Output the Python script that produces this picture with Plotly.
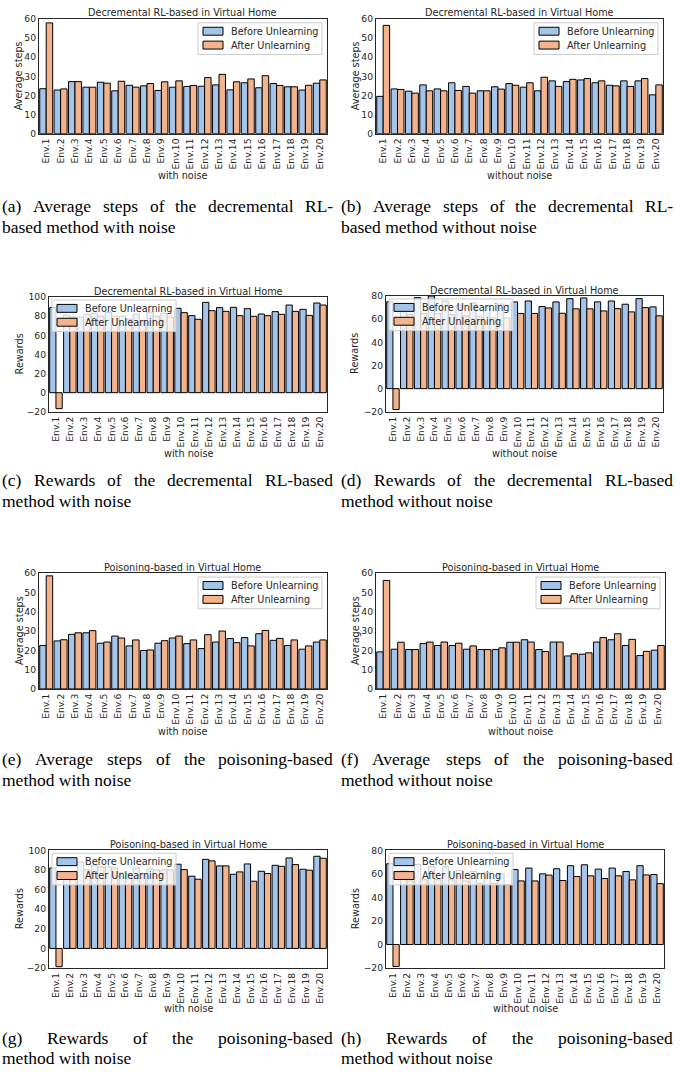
import plotly.graph_objects as go

W, H = 681, 1077

envs = ["Env.1", "Env.2", "Env.3", "Env.4", "Env.5", "Env.6", "Env.7", "Env.8", "Env.9", "Env.10",
        "Env.11", "Env.12", "Env.13", "Env.14", "Env.15", "Env.16", "Env.17", "Env.18", "Env.19", "Env.20"]

# Decremental RL-based method, average steps
dec_steps_noise_before = [23.5, 22.8, 27.2, 24.3, 26.9, 22.4, 25.3, 25.0, 22.6, 24.3,
                          24.7, 24.8, 25.5, 22.9, 26.6, 24.0, 26.2, 24.5, 22.8, 26.4]
dec_steps_noise_after = [57.9, 23.4, 27.2, 24.3, 26.4, 27.4, 24.3, 26.2, 27.1, 27.6,
                         25.2, 29.3, 31.0, 27.1, 28.6, 30.3, 25.2, 24.5, 25.3, 28.1]
dec_steps_clean_before = [19.5, 23.4, 22.2, 25.5, 23.4, 26.6, 24.7, 22.4, 24.5, 26.2,
                          24.3, 22.4, 27.6, 27.2, 28.1, 26.6, 25.3, 27.6, 27.6, 20.3]
dec_steps_clean_after = [56.6, 23.1, 21.2, 22.4, 22.4, 22.6, 21.2, 22.4, 23.3, 25.3,
                         26.6, 29.5, 24.7, 28.4, 28.8, 27.6, 25.0, 24.7, 28.8, 25.5]

# Decremental RL-based method, rewards
dec_rew_noise_before = [89.0, 81.0, 79.0, 83.0, 84.0, 80.0, 82.0, 84.0, 83.0, 88.2,
                        80.5, 94.4, 88.9, 89.2, 87.8, 82.2, 84.7, 91.6, 87.1, 93.7]
dec_rew_noise_after = [-16.7, 79.0, 82.0, 80.0, 80.0, 77.0, 75.0, 80.0, 79.0, 83.6,
                       76.7, 85.7, 85.0, 80.5, 79.8, 80.5, 81.9, 85.0, 80.8, 91.6]
dec_rew_clean_before = [75.0, 72.0, 78.6, 80.0, 75.7, 72.0, 74.0, 71.0, 73.0, 74.9,
                        75.7, 70.9, 74.9, 77.7, 78.3, 74.9, 75.7, 72.9, 77.7, 70.6]
dec_rew_clean_after = [-18.0, 64.0, 65.0, 65.0, 64.0, 63.0, 62.0, 61.0, 61.0, 64.9,
                       64.9, 69.7, 65.1, 68.9, 68.9, 67.1, 69.1, 66.3, 70.0, 62.9]

# Poisoning-based method, average steps
poi_steps_noise_before = [22.5, 24.9, 28.3, 29.1, 23.7, 27.4, 22.3, 19.9, 23.7, 26.4,
                          23.5, 20.9, 24.3, 26.1, 26.6, 28.6, 25.2, 22.5, 20.6, 24.3]
poi_steps_noise_after = [58.6, 25.5, 29.1, 30.2, 24.3, 26.4, 25.4, 20.2, 25.0, 27.4,
                         25.4, 28.1, 30.0, 24.0, 22.3, 30.3, 26.2, 25.4, 22.3, 25.4]
poi_steps_clean_before = [19.2, 20.6, 20.4, 23.5, 22.5, 22.5, 20.6, 20.4, 20.4, 24.2,
                          25.5, 20.4, 24.3, 17.1, 18.0, 24.3, 25.5, 22.5, 17.3, 20.1]
poi_steps_clean_after = [56.2, 24.2, 20.4, 24.3, 24.3, 23.7, 22.3, 20.4, 21.3, 24.2,
                         24.3, 19.4, 24.3, 18.2, 18.7, 26.6, 28.6, 25.7, 19.5, 22.5]

# Poisoning-based method, rewards
poi_rew_noise_before = [82.0, 76.0, 88.0, 85.0, 83.0, 77.0, 82.0, 81.0, 80.0, 85.8,
                        73.6, 90.8, 84.1, 75.6, 86.1, 78.6, 84.7, 92.2, 80.7, 93.9]
poi_rew_noise_after = [-18.6, 70.0, 80.0, 83.0, 82.0, 76.0, 76.0, 80.0, 80.0, 80.3,
                       70.5, 89.2, 84.1, 78.0, 68.5, 76.3, 83.7, 85.4, 79.7, 91.9]
poi_rew_clean_before = [68.6, 63.0, 68.0, 66.0, 66.0, 63.0, 62.0, 61.0, 60.0, 63.7,
                        64.9, 60.0, 64.3, 66.9, 67.7, 64.0, 64.9, 62.0, 66.9, 59.4]
poi_rew_clean_after = [-18.6, 54.0, 55.0, 55.0, 55.0, 54.0, 52.0, 52.0, 51.0, 54.0,
                       54.0, 58.9, 54.3, 57.7, 58.3, 56.0, 58.3, 54.9, 59.1, 51.7]

steps_ticks = [0, 10, 20, 30, 40, 50, 60]
rew_ticks_100 = [-20, 0, 20, 40, 60, 80, 100]
rew_ticks_80 = [-20, 0, 20, 40, 60, 80]

series_names = ["Before Unlearning", "After Unlearning"]

BLUE = "#a4c4ea"
ORANGE = "#f2b38d"
INK = "#262626"
MPL_FONT = "DejaVu Sans"
SERIF = "Liberation Serif"
FS = 9.7
TICK_FS = 9.2
CAP_FS = 17.5
CAP_LEAD = 20.7


def fx(px):
    return px / W


def fy(py):
    return 1 - py / H


TITLE_DEC = "Decremental RL-based in Virtual Home"
TITLE_POI = "Poisoning-based in Virtual Home"

# pixel boxes: (left, top, right, bottom); cap = centre of the first caption line
panels = [
    dict(title=TITLE_DEC, before=dec_steps_noise_before, after=dec_steps_noise_after,
         box=(39, 13, 327, 129), yrange=(0, 60), ticks=steps_ticks, ylabel="Average steps",
         xlabel="with noise", legend="right", ylab_x=18, xlab_y=171, col=0, cap=202.5,
         caption=("(a) Average steps of the decremental RL-", "based method with noise")),
    dict(title=TITLE_DEC, before=dec_steps_clean_before, after=dec_steps_clean_after,
         box=(376, 13, 663, 129), yrange=(0, 60), ticks=steps_ticks, ylabel="Average steps",
         xlabel="without noise", legend="right", ylab_x=355, xlab_y=171, col=1, cap=202.5,
         caption=("(b) Average steps of the decremental RL-", "based method without noise")),
    dict(title=TITLE_DEC, before=dec_rew_noise_before, after=dec_rew_noise_after,
         box=(49, 294, 327, 410), yrange=(-20, 100), ticks=rew_ticks_100, ylabel="Rewards",
         xlabel="with noise", legend="left", ylab_x=19, xlab_y=452, col=0, cap=479,
         caption=("(c) Rewards of the decremental RL-based", "method with noise")),
    dict(title=TITLE_DEC, before=dec_rew_clean_before, after=dec_rew_clean_after,
         box=(386, 293, 663, 410), yrange=(-20, 80), ticks=rew_ticks_80, ylabel="Rewards",
         xlabel="without noise", legend="left", ylab_x=355, xlab_y=452, col=1, cap=479,
         caption=("(d) Rewards of the decremental RL-based", "method without noise")),
    dict(title=TITLE_POI, before=poi_steps_noise_before, after=poi_steps_noise_after,
         box=(39, 573, 327, 690), yrange=(0, 60), ticks=steps_ticks, ylabel="Average steps",
         xlabel="with noise", legend="right", ylab_x=19, xlab_y=733, col=0, cap=761,
         caption=("(e) Average steps of the poisoning-based", "method with noise")),
    dict(title=TITLE_POI, before=poi_steps_clean_before, after=poi_steps_clean_after,
         box=(376, 573, 665, 690), yrange=(0, 60), ticks=steps_ticks, ylabel="Average steps",
         xlabel="without noise", legend="right", ylab_x=355, xlab_y=733, col=1, cap=761,
         caption=("(f) Average steps of the poisoning-based", "method without noise")),
    dict(title=TITLE_POI, before=poi_rew_noise_before, after=poi_rew_noise_after,
         box=(49, 853, 327, 972), yrange=(-20, 100), ticks=rew_ticks_100, ylabel="Rewards",
         xlabel="with noise", legend="left", ylab_x=19, xlab_y=1013, col=0, cap=1042.5,
         caption=("(g) Rewards of the poisoning-based", "method with noise")),
    dict(title=TITLE_POI, before=poi_rew_clean_before, after=poi_rew_clean_after,
         box=(386, 853, 664, 972), yrange=(-20, 80), ticks=rew_ticks_80, ylabel="Rewards",
         xlabel="without noise", legend="left", ylab_x=355, xlab_y=1013, col=1, cap=1042.5,
         caption=("(h) Rewards of the poisoning-based", "method without noise")),
]

# Times-Roman advance widths (per 1000 em) for caption justification
TIMES = {
    " ": 250, "(": 333, ")": 333, "-": 333, ".": 250,
    "a": 444, "b": 500, "c": 444, "d": 500, "e": 444, "f": 333, "g": 500, "h": 500,
    "i": 278, "j": 278, "k": 500, "l": 278, "m": 778, "n": 500, "o": 500, "p": 500,
    "q": 500, "r": 333, "s": 389, "t": 278, "u": 500, "v": 500, "w": 722, "x": 500,
    "y": 500, "z": 444, "A": 722, "L": 611, "R": 667,
}


def word_width(word, size):
    return sum(TIMES.get(c, 500) for c in word) * size / 1000.0


COLS = [(1, 332), (340, 672)]

fig = go.Figure()
shapes = []
annotations = []
layout_axes = {}

for i, p in enumerate(panels, start=1):
    xref = "x" if i == 1 else f"x{i}"
    yref = "y" if i == 1 else f"y{i}"
    xname = "xaxis" if i == 1 else f"xaxis{i}"
    yname = "yaxis" if i == 1 else f"yaxis{i}"
    left, top, right, bottom = p["box"]

    for vals, color, name in ((p["before"], BLUE, series_names[0]),
                              (p["after"], ORANGE, series_names[1])):
        fig.add_trace(go.Bar(
            x=envs, y=vals, name=name, xaxis=xref, yaxis=yref, showlegend=False,
            marker=dict(color=color, line=dict(color="black", width=1)),
        ))

    common = dict(showline=True, mirror=True, linecolor=INK, linewidth=1.2,
                  ticks="", showgrid=False, zeroline=False,
                  tickfont=dict(family=MPL_FONT, size=TICK_FS, color=INK))
    layout_axes[xname] = dict(domain=[fx(left), fx(right)], anchor=yref,
                              range=[-0.5, 19.5], tickangle=-90, type="category",
                              ticklabelstandoff=0, **common)
    ticktext = [("\u2212" + str(-t)) if t < 0 else str(t) for t in p["ticks"]]
    layout_axes[yname] = dict(domain=[fy(bottom), fy(top)], anchor=xref,
                              range=list(p["yrange"]), tickvals=p["ticks"],
                              ticktext=ticktext, ticklabelstandoff=0, **common)

    cx = (left + right) / 2
    cy = (top + bottom) / 2
    # panel title
    annotations.append(dict(text=p["title"], x=fx(cx), y=fy(top - 6), xref="paper", yref="paper",
                            xanchor="center", yanchor="middle", showarrow=False, borderpad=0,
                            font=dict(family=MPL_FONT, size=FS, color=INK)))
    # axis labels
    annotations.append(dict(text=p["xlabel"], x=fx(cx), y=fy(p["xlab_y"]), xref="paper",
                            yref="paper", xanchor="center", yanchor="middle", showarrow=False,
                            borderpad=0, font=dict(family=MPL_FONT, size=FS, color=INK)))
    annotations.append(dict(text=p["ylabel"], x=fx(p["ylab_x"]), y=fy(cy), xref="paper",
                            yref="paper", xanchor="center", yanchor="middle", showarrow=False,
                            borderpad=0, textangle=-90,
                            font=dict(family=MPL_FONT, size=FS, color=INK)))

    # legend box
    lw, lh = 124, 32
    if p["legend"] == "right":
        lx0, ly0 = right - 5 - lw, top + 4
    else:
        lx0, ly0 = left + 3, top + 3
    shapes.append(dict(type="rect", xref="paper", yref="paper", layer="above",
                       x0=fx(lx0), x1=fx(lx0 + lw), y0=fy(ly0), y1=fy(ly0 + lh),
                       fillcolor="rgba(255,255,255,0.8)", line=dict(color="#cccccc", width=1)))
    for row, (color, name) in enumerate(((BLUE, series_names[0]), (ORANGE, series_names[1]))):
        rc = ly0 + 8.5 + 14 * row
        shapes.append(dict(type="rect", xref="paper", yref="paper", layer="above",
                           x0=fx(lx0 + 5), x1=fx(lx0 + 25), y0=fy(rc - 4), y1=fy(rc + 4),
                           fillcolor=color, line=dict(color="black", width=1)))
        annotations.append(dict(text=name, x=fx(lx0 + 32), y=fy(rc), xref="paper", yref="paper",
                                xanchor="left", yanchor="middle", showarrow=False, borderpad=0,
                                font=dict(family=MPL_FONT, size=FS, color=INK)))

    # two-line justified caption below the panel
    x0, x1 = COLS[p["col"]]
    line1, line2 = p["caption"]
    words = line1.split(" ")
    widths = [word_width(w, CAP_FS) for w in words]
    gap = (x1 - x0 - sum(widths)) / (len(words) - 1)
    xpos = x0
    for w, ww in zip(words, widths):
        annotations.append(dict(text=w, x=fx(xpos), y=fy(p["cap"]), xref="paper",
                                yref="paper", xanchor="left", yanchor="middle", showarrow=False,
                                borderpad=0, font=dict(family=SERIF, size=CAP_FS, color="black")))
        xpos += ww + gap
    annotations.append(dict(text=line2, x=fx(x0), y=fy(p["cap"] + CAP_LEAD), xref="paper",
                            yref="paper", xanchor="left", yanchor="middle", showarrow=False,
                            borderpad=0, font=dict(family=SERIF, size=CAP_FS, color="black")))

fig.update_layout(
    width=W, height=H, margin=dict(l=0, r=0, t=0, b=0),
    paper_bgcolor="white", plot_bgcolor="white",
    barmode="group", bargap=0.1, bargroupgap=0,
    shapes=shapes, annotations=annotations, showlegend=False,
    **layout_axes,
)

fig.write_html("out.html")
